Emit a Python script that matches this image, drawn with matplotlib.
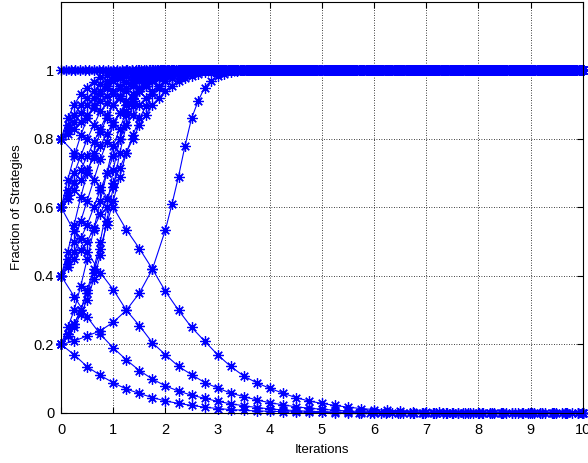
import numpy as np
import matplotlib
matplotlib.use("Agg")
import matplotlib.pyplot as plt

plt.rcParams['font.family'] = ['Liberation Sans', 'DejaVu Sans']

T_END = 10.0

decreasing = {
    "d1": [0.20, 0.17, 0.135, 0.11, 0.088, 0.07, 0.057, 0.045, 0.035, 0.028,
           0.022, 0.017, 0.013, 0.010, 0.008, 0.006, 0.005, 0.004, 0.003,
           0.002, 0.0015, 0.001, 0.0],
    "d2": [0.40, 0.34, 0.28, 0.23, 0.19, 0.155, 0.124, 0.099, 0.079, 0.064,
           0.052, 0.043, 0.034, 0.027, 0.021, 0.016, 0.012, 0.009, 0.007,
           0.005, 0.004, 0.003, 0.002, 0.001, 0.0],
    "d3": [0.60, 0.53, 0.47, 0.41, 0.36, 0.30, 0.255, 0.205, 0.17, 0.136,
           0.112, 0.089, 0.073, 0.058, 0.048, 0.038, 0.030, 0.024, 0.018,
           0.014, 0.011, 0.008, 0.006, 0.004, 0.003, 0.002, 0.001, 0.0],
    "d4": [0.80, 0.76, 0.71, 0.66, 0.60, 0.535, 0.48, 0.42, 0.355, 0.30,
           0.25, 0.21, 0.17, 0.136, 0.108, 0.088, 0.072, 0.058, 0.045, 0.035,
           0.028, 0.022, 0.017, 0.013, 0.010, 0.008, 0.006, 0.004, 0.003,
           0.002, 0.001, 0.0],
}
decreasing_step = 0.25

increasing = {
    "a1": [0.80, 0.86, 0.90, 0.93, 0.95, 0.967, 0.98, 0.986, 0.99, 0.995, 1.0],
    "a2": [0.80, 0.84, 0.87, 0.90, 0.92, 0.94, 0.96, 0.97, 0.98, 0.985, 0.99,
           0.995, 1.0],
    "a3": [0.80, 0.825, 0.85, 0.875, 0.90, 0.92, 0.94, 0.955, 0.97, 0.978,
           0.985, 0.99, 0.995, 0.998, 1.0],
    "a4": [0.80, 0.815, 0.83, 0.85, 0.87, 0.89, 0.91, 0.925, 0.94, 0.953,
           0.965, 0.973, 0.98, 0.985, 0.99, 0.995, 1.0],
    "b1": [0.60, 0.68, 0.75, 0.81, 0.86, 0.90, 0.93, 0.95, 0.97, 0.978, 0.985,
           0.99, 0.995, 0.998, 1.0],
    "b2": [0.60, 0.65, 0.70, 0.75, 0.80, 0.84, 0.88, 0.905, 0.93, 0.95, 0.965,
           0.975, 0.985, 0.99, 0.995, 0.998, 1.0],
    "b3": [0.60, 0.635, 0.67, 0.71, 0.75, 0.79, 0.83, 0.87, 0.90, 0.92, 0.94,
           0.955, 0.97, 0.978, 0.985, 0.99, 0.995, 0.998, 1.0],
    "b4": [0.60, 0.625, 0.65, 0.68, 0.71, 0.745, 0.78, 0.815, 0.85, 0.875,
           0.90, 0.92, 0.94, 0.955, 0.97, 0.978, 0.985, 0.99, 0.995, 0.998,
           1.0],
    "c1": [0.40, 0.47, 0.55, 0.63, 0.70, 0.76, 0.82, 0.86, 0.90, 0.925, 0.95,
           0.963, 0.975, 0.983, 0.99, 0.995, 1.0],
    "c2": [0.40, 0.45, 0.50, 0.56, 0.62, 0.68, 0.74, 0.79, 0.84, 0.875, 0.91,
           0.93, 0.95, 0.963, 0.975, 0.983, 0.99, 0.995, 1.0],
    "c3": [0.40, 0.435, 0.47, 0.51, 0.55, 0.60, 0.65, 0.70, 0.75, 0.80, 0.84,
           0.87, 0.90, 0.92, 0.94, 0.955, 0.97, 0.978, 0.985, 0.99, 0.995,
           0.998, 1.0],
    "c4": [0.40, 0.425, 0.45, 0.475, 0.50, 0.54, 0.58, 0.625, 0.67, 0.715,
           0.76, 0.80, 0.84, 0.87, 0.90, 0.92, 0.94, 0.955, 0.97, 0.978, 0.985,
           0.99, 0.995, 0.998, 1.0],
    "e1": [0.20, 0.25, 0.30, 0.37, 0.45, 0.535, 0.62, 0.70, 0.78, 0.83, 0.88,
           0.91, 0.94, 0.955, 0.97, 0.98, 0.99, 0.995, 1.0],
    "e2": [0.20, 0.23, 0.26, 0.30, 0.35, 0.41, 0.48, 0.55, 0.62, 0.69, 0.76,
           0.81, 0.86, 0.895, 0.93, 0.95, 0.97, 0.978, 0.985, 0.99, 0.995,
           0.998, 1.0],
    "e3": [0.20, 0.23, 0.26, 0.30, 0.36, 0.42, 0.50, 0.60, 0.71, 0.80, 0.87,
           0.915, 0.95, 0.97, 0.985, 0.99, 0.995, 0.998, 1.0],
    "e4": [0.20, 0.225, 0.25, 0.29, 0.33, 0.39, 0.46, 0.56, 0.66, 0.76, 0.84,
           0.895, 0.94, 0.96, 0.98, 0.988, 0.995, 0.998, 1.0],
    "f1": [1.0],
}
increasing_step = 0.125

# The slow curve: sampled every 0.25 up to 2, then every 0.125.
slow_t = [0, 0.25, 0.5, 0.75, 1.0, 1.25, 1.5, 1.75, 2.0, 2.125, 2.25, 2.375,
          2.5, 2.625, 2.75, 2.875, 3.0, 3.125, 3.25, 3.375, 3.5]
slow_y = [0.20, 0.21, 0.225, 0.24, 0.265, 0.30, 0.35, 0.42, 0.535, 0.61, 0.69,
          0.78, 0.86, 0.91, 0.95, 0.97, 0.985, 0.99, 0.995, 0.998, 1.0]

# spacing of the solver's steps once a curve has settled (per curve)
dec_tail_steps = [0.21, 0.23, 0.19, 0.24]
inc_tail_steps = [0.11, 0.13, 0.09, 0.12, 0.1, 0.14, 0.095, 0.125, 0.105,
                  0.135, 0.115, 0.085, 0.12, 0.1, 0.13, 0.11, 0.09, 0.12]

xticks = list(range(0, 11))
yticks = [0, 0.2, 0.4, 0.6, 0.8, 1]
ytick_labels = ["0", "0.2", "0.4", "0.6", "0.8", "1"]

fig = plt.figure(figsize=(5.88, 4.63), dpi=100)
ax = fig.add_axes([0.104, 0.108, 0.887, 0.888])

style = dict(color=(0, 0, 1), lw=0.8, marker=(8, 2, 0), markersize=7.5,
             markeredgewidth=0.9, clip_on=False)


def draw(t_head, vals, tail_step):
    t_head = np.asarray(t_head, dtype=float)
    t_tail = np.arange(t_head[-1] + tail_step, T_END + 1e-9, tail_step)
    if len(t_tail) == 0 or t_tail[-1] < T_END - 1e-9:
        t_tail = np.append(t_tail, T_END)
    t = np.concatenate([t_head, t_tail])
    y = np.concatenate([vals, np.full(len(t_tail), vals[-1])])
    ax.plot(t, y, **style)


for i, vals in enumerate(decreasing.values()):
    draw(np.arange(len(vals)) * decreasing_step, vals, dec_tail_steps[i])
for i, vals in enumerate(increasing.values()):
    draw(np.arange(len(vals)) * increasing_step, vals, inc_tail_steps[i])
draw(slow_t, slow_y, inc_tail_steps[-1])

ax.set_xlim(0, 10)
ax.set_ylim(0, 1.2)
ax.set_xticks(xticks)
ax.set_yticks(yticks)
ax.set_yticklabels(ytick_labels)
ax.grid(True, color='black', linestyle=(0, (1, 2)), linewidth=0.6)
ax.tick_params(direction='in', top=True, right=True, labelsize=10.5,
               length=4, pad=5)
ax.tick_params(axis='x', pad=7)
for s in ax.spines.values():
    s.set_linewidth(0.8)
ax.set_xlabel("Iterations", fontsize=9.5, labelpad=5)
ax.set_ylabel("Fraction of Strategies", fontsize=9.5, labelpad=8)

fig.savefig("out.png", dpi=100)
